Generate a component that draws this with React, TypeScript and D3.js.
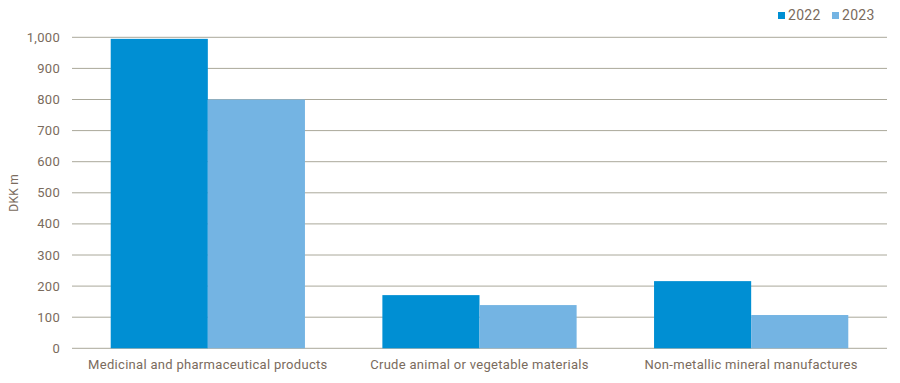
import React from "react";
import * as d3 from "d3";

const categories = ["Medicinal and pharmaceutical products", "Crude animal or vegetable materials", "Non-metallic mineral manufactures"];
const seriesNames = ["2022", "2023"];
const values2022 = [995, 171, 216];
const values2023 = [800, 139, 107];
const yTicks = [0, 100, 200, 300, 400, 500, 600, 700, 800, 900, 1000];
const colors = ["#008fd3", "#74b4e3"];

const W = 900, H = 383;
const left = 72, right = 887, top = 37.3, bottom = 348.3;
const textColor = "#7a6b5d";
const font = "Roboto, 'Open Sans', sans-serif";

export default function App() {
  const x0 = d3.scaleBand().domain(categories).range([left, right]).paddingInner(0.285).paddingOuter(0.1425);
  const x1 = d3.scaleBand().domain(seriesNames).range([0, x0.bandwidth()]);
  const y = d3.scaleLinear().domain([0, 1000]).range([bottom, top]);
  const series = [values2022, values2023];
  const fmt = d3.format(",");
  return (
    <svg width={W} height={H} style={{ position: "absolute", left: 0, top: 0 }} fontFamily={font}>
      <rect width={W} height={H} fill="#fff" />
      {yTicks.map(t => (
        <g key={t}>
          <line x1={left} x2={right} y1={y(t)} y2={y(t)} stroke="#aaa89a" strokeWidth={1} />
          <text x={60} y={y(t)} dy="0.35em" textAnchor="end" fontSize={13} letterSpacing={0.3} fill={textColor}>{fmt(t)}</text>
        </g>
      ))}
      {series.map((vals, si) => vals.map((v, ci) => (
        <rect key={si + "-" + ci} x={(x0(categories[ci]) as number) + (x1(seriesNames[si]) as number)} y={y(v)} width={x1.bandwidth()} height={y(0) - y(v)} fill={colors[si]} />
      )))}
      {categories.map(c => (
        <text key={c} x={(x0(c) as number) + x0.bandwidth() / 2} y={369} textAnchor="middle" fontSize={13} letterSpacing={0.3} fill={textColor}>{c}</text>
      ))}
      <text transform={`translate(18,${(top + bottom) / 2}) rotate(-90)`} textAnchor="middle" fontSize={12} letterSpacing={0.3} fill={textColor}>DKK m</text>
      {seriesNames.map((s, i) => (
        <g key={s} transform={`translate(${778 + i * 54},0)`}>
          <rect x={0} y={12} width={7} height={7} fill={colors[i]} />
          <text x={10} y={20} fontSize={14} letterSpacing={0.3} fill={textColor}>{s}</text>
        </g>
      ))}
    </svg>
  );
}
